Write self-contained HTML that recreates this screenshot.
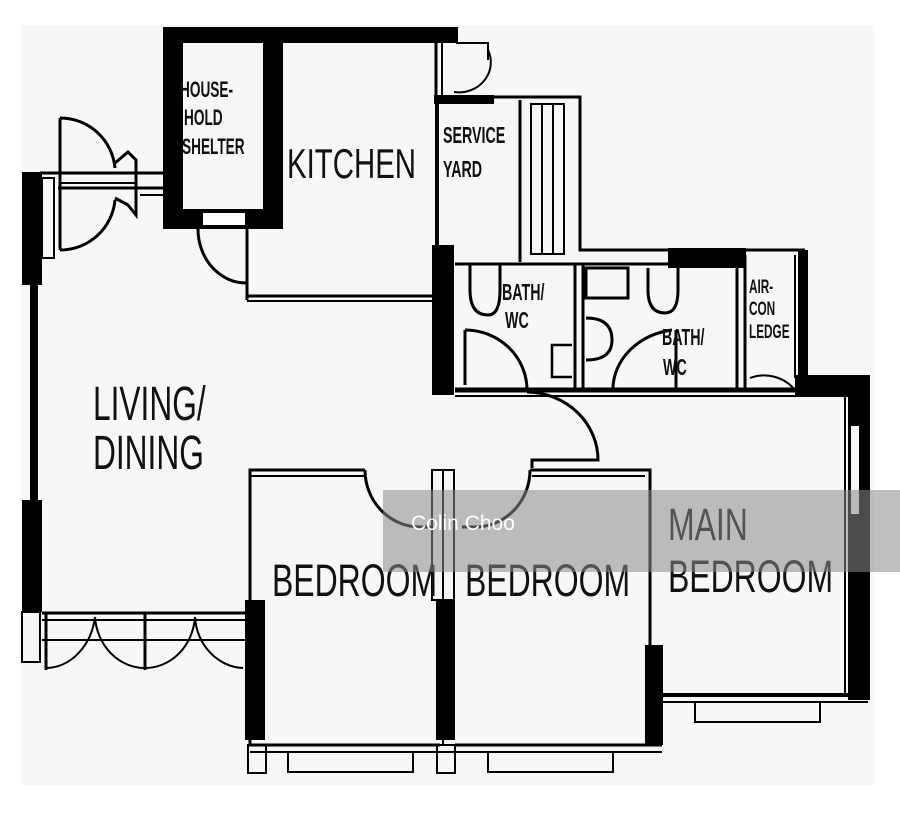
<!DOCTYPE html>
<html><head><meta charset="utf-8"><style>
html,body{margin:0;padding:0;background:#fff;}
svg{display:block;}
text{font-family:"Liberation Sans",sans-serif;fill:#111;}
</style></head><body>
<svg width="900" height="817" viewBox="0 0 900 817" xmlns="http://www.w3.org/2000/svg">
<rect x="0" y="0" width="900" height="817" fill="#fff"/>
<rect x="22" y="25" width="852" height="760" fill="#f7f7f7"/>

<g fill="#000" stroke="none">
<rect x="163" y="27" width="295" height="16"/>
<rect x="163" y="27" width="20" height="202"/>
<rect x="263" y="27" width="20" height="202"/>
<rect x="163" y="209" width="120" height="20"/>
<rect x="432" y="245" width="22" height="150"/>
<rect x="434" y="95" width="60" height="9"/>
<rect x="668" y="248" width="78" height="20"/>
<rect x="798" y="250" width="10" height="128"/>
<rect x="795" y="375" width="75" height="20"/>
<rect x="848" y="375" width="22" height="325"/>
<rect x="22" y="172" width="20" height="113"/>
<rect x="30" y="285" width="8" height="215"/>
<rect x="22" y="500" width="20" height="112"/>
<rect x="245" y="600" width="20" height="140"/>
<rect x="436" y="600" width="19" height="140"/>
<rect x="645" y="645" width="18" height="100"/>
</g>

<g fill="none" stroke="#000" stroke-width="3">
<rect x="202" y="212" width="44" height="14" stroke-width="2" fill="#fff"/>
<path d="M198 229 A48 54 0 0 0 246 283"/>
<line x1="247" y1="229" x2="247" y2="300"/>
<line x1="247" y1="296" x2="432" y2="296"/>
<line x1="247" y1="301" x2="432" y2="301" stroke-width="2"/>
<line x1="436" y1="43" x2="436" y2="95"/>
<line x1="442" y1="43" x2="442" y2="95" stroke-width="2"/>
<path d="M456 43 L488 43 L488 60" stroke-width="2"/>
<path d="M488 50 A32 30 0 0 1 454 92" stroke-width="2"/>
<line x1="437" y1="104" x2="437" y2="245" stroke-width="4"/>
<line x1="520" y1="100" x2="520" y2="262"/>
<rect x="531" y="104" width="33" height="150" stroke-width="2"/>
<line x1="542" y1="104" x2="542" y2="254" stroke-width="2"/>
<line x1="553" y1="104" x2="553" y2="254" stroke-width="2"/>
<path d="M494 97 L580 97 L580 250 L805 250"/>
<line x1="455" y1="264" x2="668" y2="264"/>
<line x1="575" y1="264" x2="575" y2="388"/>
<line x1="583" y1="264" x2="583" y2="388"/>
<path d="M470 265 L470 290 Q470 315 488 315 Q500 315 500 290 L500 265"/>
<path d="M465 330 L465 385 M465 330 A62 60 0 0 1 527 390"/>
<path d="M572 345 L552 345 L552 377 L572 377" stroke-width="2.5"/>
<path d="M586 318 Q612 318 612 340 Q612 360 586 360"/>
<rect x="586" y="268" width="42" height="30"/>
<path d="M648 268 L648 290 Q648 313 665 313 Q678 313 678 290 L678 268"/>
<path d="M613 388 A70 60 0 0 1 672 330"/>
<line x1="676" y1="330" x2="676" y2="388"/>
<line x1="737" y1="268" x2="737" y2="388"/>
<line x1="745" y1="255" x2="745" y2="388"/>
<line x1="795" y1="255" x2="795" y2="378" stroke-width="2"/>
<path d="M750 378 A40 40 0 0 1 795 390" stroke-width="2"/>
<line x1="455" y1="390" x2="850" y2="390" stroke-width="5"/>
<line x1="455" y1="396" x2="850" y2="396" stroke-width="2"/>
<path d="M527 392 A72 68 0 0 1 598 460 L532 460 L532 468"/>
<line x1="40" y1="173" x2="163" y2="173"/>
<line x1="58" y1="188" x2="163" y2="188"/>
<line x1="140" y1="195" x2="163" y2="195" stroke-width="2"/>
<rect x="42" y="178" width="12" height="80" stroke-width="2"/>
<path d="M60 118 L60 250 M60 118 A55 55 0 0 1 115 168 M60 250 A55 55 0 0 0 115 200"/>
<path d="M115 163 L128 152 L136 160 L136 215 L128 205 L115 198"/>
<line x1="60" y1="183" x2="136" y2="183" stroke-width="2"/>
<line x1="42" y1="613" x2="245" y2="613"/>
<line x1="42" y1="620" x2="245" y2="620" stroke-width="2"/>
<line x1="42" y1="640" x2="245" y2="640" stroke-width="2"/>
<rect x="22" y="612" width="18" height="50" stroke-width="2"/>
<line x1="46" y1="612" x2="46" y2="670"/>
<line x1="145" y1="612" x2="145" y2="670"/>
<path d="M46 668 A50 60 0 0 0 95 617 M95 617 A50 55 0 0 0 145 668 M145 668 A50 55 0 0 0 195 617 M195 617 A50 55 0 0 0 243 668" stroke-width="2"/>
<path d="M365 470 L250 470 L250 745 L440 745"/>
<line x1="250" y1="476" x2="365" y2="476" stroke-width="2"/>
<path d="M365 470 A55 57 0 0 0 420 527 L432 527"/>
<rect x="432" y="470" width="22" height="130" stroke-width="2"/>
<line x1="443" y1="470" x2="443" y2="745" stroke-width="2"/>
<path d="M530 470 L650 470 L650 645"/>
<line x1="532" y1="476" x2="645" y2="476" stroke-width="2"/>
<path d="M530 470 A55 57 0 0 1 475 527 L462 527"/>
<line x1="455" y1="745" x2="662" y2="745"/>
<line x1="250" y1="752" x2="662" y2="752" stroke-width="2"/>
<rect x="288" y="752" width="125" height="20" stroke-width="2"/>
<rect x="488" y="752" width="125" height="20" stroke-width="2"/>
<rect x="248" y="745" width="18" height="28" stroke-width="2"/>
<rect x="437" y="745" width="18" height="28" stroke-width="2"/>
<line x1="662" y1="695" x2="868" y2="695" stroke-width="4"/>
<line x1="662" y1="702" x2="868" y2="702" stroke-width="2"/>
<rect x="695" y="702" width="125" height="20" stroke-width="2"/>
<rect x="850" y="425" width="10" height="90" stroke-width="2" fill="#f7f7f7"/>
<line x1="845" y1="395" x2="845" y2="695" stroke-width="2"/>
</g>

<g>
<text transform="translate(180,97) scale(0.62,1)" font-size="22" font-weight="bold">HOUSE-</text>
<text transform="translate(184,125) scale(0.62,1)" font-size="22" font-weight="bold">HOLD</text>
<text transform="translate(182,154) scale(0.62,1)" font-size="22" font-weight="bold">SHELTER</text>
<text transform="translate(287,178) scale(0.7,1)" font-size="42">KITCHEN</text>
<text transform="translate(443,143) scale(0.62,1)" font-size="23" font-weight="bold">SERVICE</text>
<text transform="translate(443,177) scale(0.62,1)" font-size="23" font-weight="bold">YARD</text>
<text transform="translate(502,300) scale(0.62,1)" font-size="23" font-weight="bold">BATH/</text>
<text transform="translate(505,328) scale(0.62,1)" font-size="23" font-weight="bold">WC</text>
<text transform="translate(662,345) scale(0.62,1)" font-size="23" font-weight="bold">BATH/</text>
<text transform="translate(663,375) scale(0.62,1)" font-size="23" font-weight="bold">WC</text>
<text transform="translate(749,293) scale(0.62,1)" font-size="19" font-weight="bold">AIR-</text>
<text transform="translate(749,315) scale(0.62,1)" font-size="19" font-weight="bold">CON</text>
<text transform="translate(749,338) scale(0.62,1)" font-size="19" font-weight="bold">LEDGE</text>
<text transform="translate(93,420) scale(0.66,1)" font-size="48">LIVING/</text>
<text transform="translate(93,469) scale(0.66,1)" font-size="48">DINING</text>
<text transform="translate(272,596) scale(0.71,1)" font-size="45">BEDROOM</text>
<text transform="translate(465,596) scale(0.71,1)" font-size="45">BEDROOM</text>
<text transform="translate(668,540) scale(0.71,1)" font-size="45">MAIN</text>
<text transform="translate(668,592) scale(0.71,1)" font-size="45">BEDROOM</text>
</g>

<rect x="383" y="490" width="517" height="82" fill="#8a8a8a" fill-opacity="0.55"/>
<text x="411" y="530" font-size="21" style="fill:#fff">Colin Choo</text>
</svg>
</body></html>
